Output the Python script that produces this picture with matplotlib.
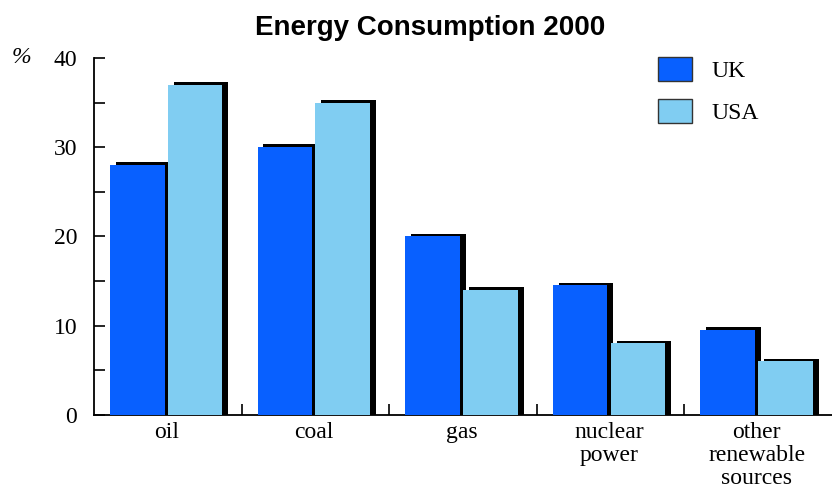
import matplotlib.pyplot as plt
from matplotlib.patches import Patch
from matplotlib.ticker import MultipleLocator, FixedLocator

categories = ["oil", "coal", "gas", "nuclear\npower", "other\nrenewable\nsources"]
uk = [28, 30, 20, 14.5, 9.5]
usa = [37, 35, 14, 8, 6]

uk_color = "#0860ff"
usa_color = "#80cdf2"
serif = "Liberation Serif"
fs = 17

fig = plt.figure(figsize=(8.32, 4.95), dpi=100)
ax = fig.add_axes([0.113, 0.162, 0.887, 0.721])

bw = 0.37
dx, dy = 0.04, 0.3
x = range(len(categories))
for i in x:
    for off, val, col in [(0.108, uk[i], uk_color), (0.5, usa[i], usa_color)]:
        # black drop shadow behind each bar
        ax.bar(i + off + dx, val + dy, width=bw, align="edge", color="black", zorder=2)
        ax.bar(i + off, val, width=bw, align="edge", color=col, zorder=3)

ax.set_xlim(0, 5)
ax.set_ylim(0, 40)
for s in ["top", "right"]:
    ax.spines[s].set_visible(False)
ax.spines["left"].set_linewidth(1.3)
ax.spines["bottom"].set_linewidth(1.3)

ax.yaxis.set_major_locator(MultipleLocator(10))
ax.yaxis.set_minor_locator(MultipleLocator(5))
ax.tick_params(axis="y", which="both", direction="in", length=8, width=1.2, pad=12,
               labelsize=fs)
ax.xaxis.set_major_locator(FixedLocator([1, 2, 3, 4]))
ax.tick_params(axis="x", which="major", direction="in", length=8, width=1.2,
               labelbottom=False)
for lab in ax.get_yticklabels():
    lab.set_fontfamily(serif)

for i, c in enumerate(categories):
    ax.text(i + 0.49, -0.8, c, ha="center", va="top", fontsize=fs,
            family=serif, linespacing=1.12)

ax.text(-0.49, 40, "%", ha="center", va="center", fontsize=fs,
        family=serif, style="italic", clip_on=False)

fig.text(0.517, 0.943, "Energy Consumption 2000", ha="center", va="center",
         fontsize=20, fontweight="bold", family="Liberation Sans")

handles = [Patch(facecolor=uk_color, edgecolor="#333333", label="UK"),
           Patch(facecolor=usa_color, edgecolor="#333333", label="USA")]
ax.legend(handles=handles, loc="upper left", bbox_to_anchor=(0.764, 1.003), frameon=False,
          prop={"family": serif, "size": fs}, handlelength=1.44,
          handleheight=1.19, labelspacing=0.72, handletextpad=0.85,
          borderpad=0, borderaxespad=0)

fig.savefig("out.png", dpi=100)
